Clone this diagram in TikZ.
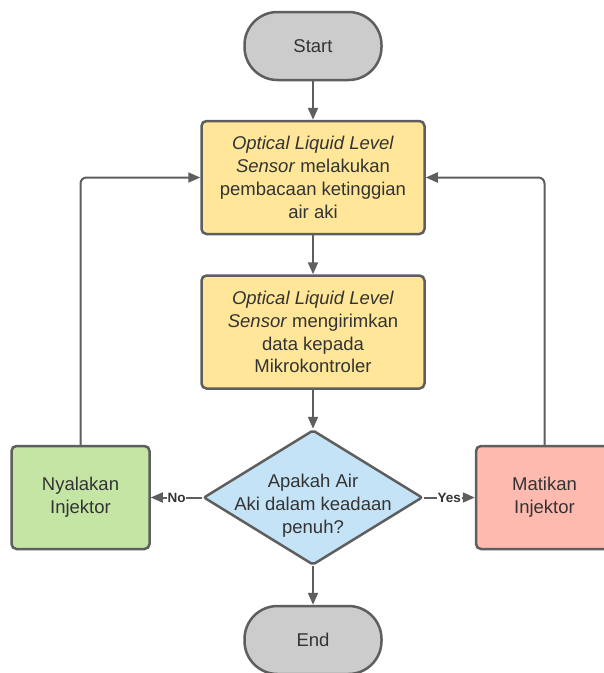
\documentclass[tikz,border=0pt]{standalone}
\usepackage{fontspec}
\setmainfont{Liberation Sans}
\usetikzlibrary{arrows.meta,shapes.geometric}
\definecolor{strokec}{HTML}{5E5E5E}
\definecolor{txtc}{HTML}{333333}
\definecolor{termfill}{HTML}{CCCCCC}
\definecolor{procfill}{HTML}{FFE699}
\definecolor{decfill}{HTML}{C5E3F6}
\definecolor{onfill}{HTML}{C5E5A5}
\definecolor{offfill}{HTML}{FFBAB0}
\tikzset{
  basefont/.style={font=\fontsize{18.5}{22.8}\selectfont, text=txtc},
  terminal/.style={basefont, draw=strokec, line width=2.5pt, fill=termfill,
    rectangle, rounded corners=33pt, minimum width=137pt, minimum height=68pt, inner sep=0pt},
  process/.style={basefont, draw=strokec, line width=2.5pt, fill=procfill,
    rectangle, rounded corners=5pt, minimum width=223pt, minimum height=113pt, align=center, inner sep=0pt},
  action/.style={basefont, draw=strokec, line width=2.5pt,
    rectangle, rounded corners=5pt, minimum width=138pt, minimum height=103pt, align=center, inner sep=0pt},
  decision/.style={draw=strokec, line width=2.5pt, fill=decfill, diamond,
    minimum width=219pt, minimum height=135pt, inner sep=0pt, rounded corners=2pt},
  txtonly/.style={basefont, align=center, inner sep=0pt},
  arr/.style={draw=strokec, line width=2pt, -{Triangle[length=12pt,width=10pt]}},
  lbl/.style={font=\fontsize{13.5}{15}\selectfont\bfseries, text=txtc, fill=white, inner sep=1pt}
}
\begin{document}
\begin{tikzpicture}[x=1pt,y=-1pt]
\useasboundingbox (0,0) rectangle (604,673);
\begin{scope}
\clip (0,0) rectangle (604,673);
\node[terminal] (start) at (313,46) {Start};
\node[process] (read) at (313,177.5) {\textit{Optical Liquid Level}\\\textit{Sensor} melakukan\\pembacaan ketinggian\\air aki};
\node[process] (send) at (313,332) {\textit{Optical Liquid Level}\\\textit{Sensor} mengirimkan\\data kepada\\Mikrokontroler};
\node[decision] (dec) at (313,497.5) {};
\node[txtonly] (dectxt) at (313,506) {Apakah Air\\Aki dalam keadaan\\penuh?};
\node[action, fill=onfill] (on) at (80.5,497.5) {Nyalakan\\Injektor};
\node[action, fill=offfill, minimum width=137pt] (off) at (544.5,497.5) {Matikan\\Injektor};
\node[terminal] (end) at (313,640) {End};

\draw[arr] (start) -- (read);
\draw[arr] (read) -- (send);
\draw[arr] (send) -- (dec);
\draw[arr] (dec) -- (end);
\draw[arr] (dec.west) -- node[lbl] (nolbl) {No} (on.east);
\draw[arr] (dec.east) -- node[lbl] (yeslbl) {Yes} (off.west);
\draw[arr, rounded corners=6pt] (on.north) |- (read.west);
\draw[arr, rounded corners=6pt] (off.north) |- (read.east);
\end{scope}
\end{tikzpicture}
\end{document}
